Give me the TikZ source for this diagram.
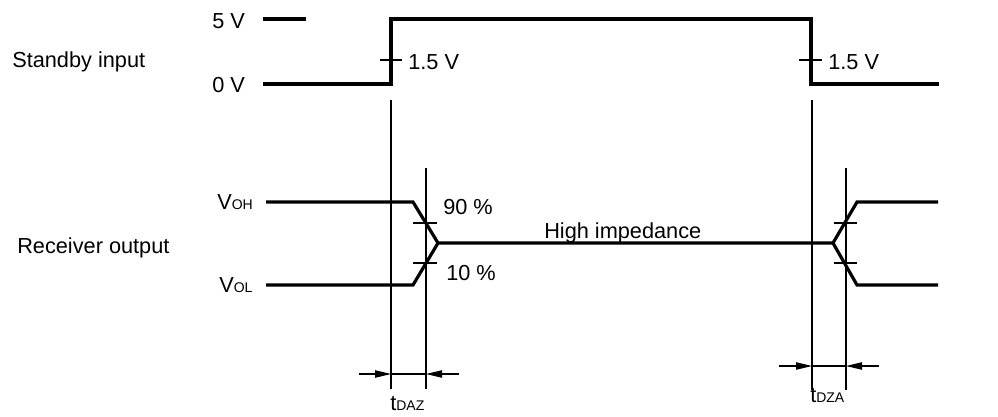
\documentclass[tikz,border=0pt]{standalone}
\usepackage{fontspec}
\setmainfont{Liberation Sans}
\usetikzlibrary{arrows.meta}
\newcommand{\sublbl}[1]{{\fontsize{10.5}{12}\selectfont #1}}

\begin{document}
\begin{tikzpicture}[x=0.75pt,y=-0.75pt,
  signal/.style={line width=2.4pt},
  guide/.style={line width=0.8pt},
  dim/.style={line width=0.8pt,-{Triangle[length=12pt,width=5.5pt]}}]

\useasboundingbox (0,0) rectangle (998,417);

\begin{scope}[every node/.style={inner sep=0pt,anchor=base west,font=\fontsize{16.3}{19}\selectfont}]
\node(standby) at(12,68) {Standby input};
\node(high) at(212,29) {5 V};
\node(low) at(212,93) {0 V};
\node(rise) at(408,70) {1.5 V};
\node(fall) at(828,70) {1.5 V};
\node(receiver) at(17,253) {Receiver output};
\node(voh) at(217,209) {V\sublbl{OH}};
\node(vol) at(219,292) {V\sublbl{OL}};
\node(ninety) at(443,214) {90 \%};
\node(ten) at(446,280) {10 \%};
\node(hiz) at(544,238) {High impedance};
\node(tdaz) at(390,410) {t\sublbl{DAZ}};
\node(tdza) at(810,402) {t\sublbl{DZA}};
\end{scope}

% standby input
\draw[signal] (263,19) -- (306,19);
\draw[signal] (263,84) -- (391,84) -- (391,19) -- (811,19) -- (811,84) -- (939,84);
\draw[guide] (380,60) -- (402,60);
\draw[guide] (799,60) -- (822,60);

% receiver output
\draw[signal] (266,202) -- (413,202) -- (438,243) -- (833,243) -- (857,202) -- (938,202);
\draw[signal] (266,285) -- (413,285) -- (438,243);
\draw[signal] (833,243) -- (857,285) -- (938,285);
\draw[guide] 
(413,223) -- (437,223)
(413,263) -- (437,263)
(834,223) -- (857,223)
(834,263) -- (857,263)
;

% timing guides
\draw[guide] 
(391,100) -- (391,389)
(426,168) -- (426,389)
(812,100) -- (812,390)
(846,168) -- (846,390)
;

\draw[dim] (359,374) -- (391,374);
\draw[guide] (391,374) -- (426,374);
\draw[dim] (459,374) -- (426,374);

\draw[dim] (779,366) -- (812,366);
\draw[guide] (812,366) -- (846,366);
\draw[dim] (879,366) -- (846,366);

\end{tikzpicture}
\end{document}
